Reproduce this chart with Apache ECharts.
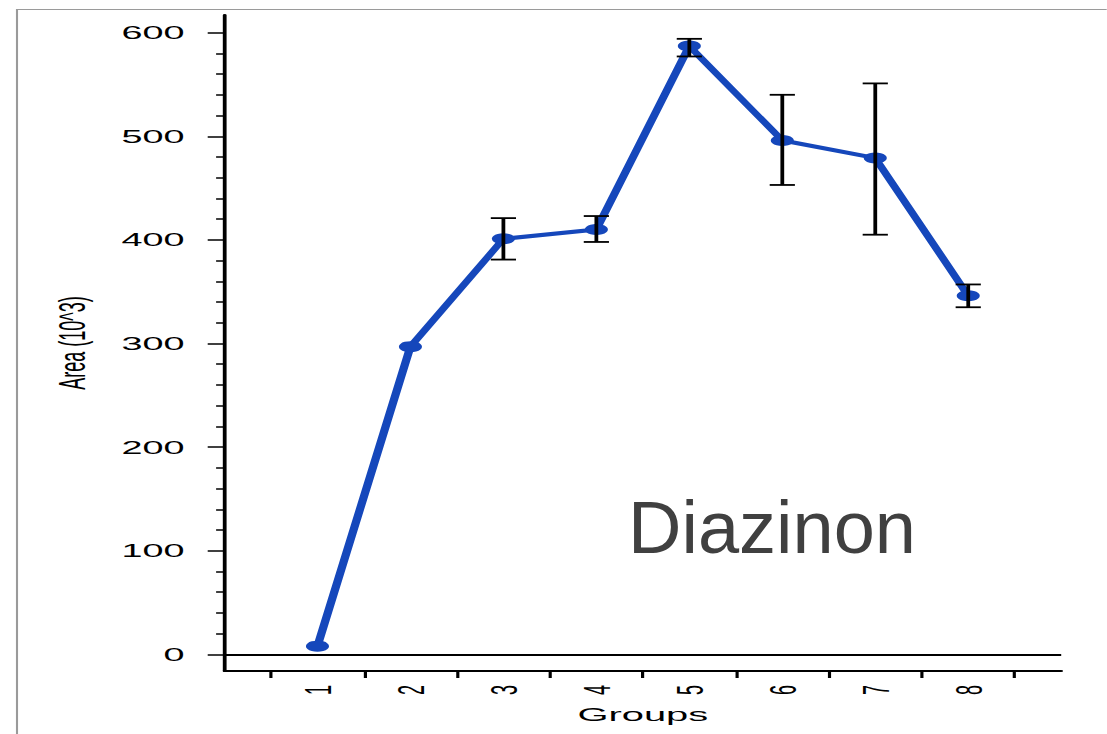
<!DOCTYPE html>
<html>
<head>
<meta charset="utf-8">
<title>Diazinon</title>
<script src="https://cdn.jsdelivr.net/npm/echarts@6/dist/echarts.min.js"></script>
<style>
  html, body { margin: 0; padding: 0; background: #fff; overflow: hidden; }
  /* The plot is laid out in a narrow frame and stretched horizontally. */
  #chart {
    position: absolute; left: 0; top: 0;
    height: 734px;
    transform-origin: 0 0;
  }
</style>
</head>
<body>
<div id="chart"></div>
<script>
// ---- data ----
const groups = [1, 2, 3, 4, 5, 6, 7, 8];
const groupLabels = ['1', '2', '3', '4', '5', '6', '7', '8'];
const areaMean = [8, 297, 401, 410, 587, 496, 479, 346];
const areaLow  = [null, null, 381, 398, 577, 453, 405, 335];
const areaHigh = [null, null, 421, 423, 594, 540, 551, 357];
const yTicks = [0, 100, 200, 300, 400, 500, 600];
const yMinorStep = 20;

// ---- layout helpers ----
const STRETCH = 2.1;
const PAGE_W = 1107;
const frameW = PAGE_W / STRETCH;
const el = document.getElementById('chart');
el.style.width = frameW + 'px';
el.style.transform = 'scaleX(' + STRETCH + ')';

const BLUE = '#1547BB';
const FONT = '"Liberation Sans", Arial, Helvetica, sans-serif';

const linePoints = groups.map((g, i) => [g, areaMean[i]]);
const errPoints = groups
  .map((g, i) => [g, areaLow[i], areaHigh[i]])
  .filter(d => d[1] != null && d[2] != null);

// tick marks between the groups
const xTickPos = groups.map(g => g - 0.5).concat([groups[groups.length - 1] + 0.5]);
// minor ticks between the labelled y ticks
const yMinor = [];
for (let k = 0; k < yTicks.length - 1; k++) {
  for (let v = yTicks[k] + yMinorStep; v < yTicks[k + 1]; v += yMinorStep) yMinor.push(v);
}

const chart = echarts.init(el, null, { renderer: 'svg' });

chart.setOption({
  animation: false,
  backgroundColor: '#fff',
  grid: { left: 224.5 / STRETCH, right: (PAGE_W - 1061.5) / STRETCH, top: 15, bottom: 63 },
  xAxis: {
    type: 'value',
    min: 0, max: 9,
    name: 'Groups',
    nameLocation: 'middle',
    nameGap: 34,
    nameTextStyle: { fontFamily: FONT, fontSize: 19, color: '#000' },
    axisLine: { show: true, onZero: false, lineStyle: { color: '#000', width: 1.8 } },
    axisTick: { show: true, length: 7, customValues: xTickPos, lineStyle: { color: '#000', width: 1.5 } },
    axisLabel: {
      customValues: groups,
      rotate: 90,
      margin: 14,
      fontFamily: FONT, fontSize: 18, color: '#000',
      formatter: v => groupLabels[groups.indexOf(v)] || ''
    },
    splitLine: { show: false }
  },
  yAxis: [
    {
      type: 'value',
      min: -16, max: 617,
      name: 'Area (10^3)',
      nameLocation: 'middle',
      nameGap: 64,
      nameRotate: 90,
      nameTextStyle: { fontFamily: FONT, fontSize: 18, color: '#000' },
      axisLine: { show: true, onZero: false, lineStyle: { color: '#000', width: 1.8 } },
      axisTick: { show: true, length: 8, customValues: yTicks, lineStyle: { color: '#000', width: 1.5 } },
      axisLabel: { customValues: yTicks, margin: 19, fontFamily: FONT, fontSize: 18, color: '#000' },
      splitLine: { show: false }
    },
    {
      type: 'value',
      min: -16, max: 617,
      position: 'left',
      axisLine: { show: false },
      axisTick: { show: true, length: 4, customValues: yMinor, lineStyle: { color: '#000', width: 1.5 } },
      axisLabel: { show: false },
      splitLine: { show: false }
    }
  ],
  graphic: [
    {
      type: 'rect',
      shape: { x: 17 / STRETCH, y: 9.5, width: 3000, height: 3000 },
      style: { fill: 'none', stroke: '#9a9a9a', lineWidth: 1 },
      silent: true, z: -10
    },
    {
      type: 'text',
      x: 772 / STRETCH, y: 527,
      scaleX: 1 / STRETCH,
      style: {
        text: 'Diazinon',
        fontFamily: FONT, fontSize: 74, fill: '#404040',
        align: 'center', verticalAlign: 'middle'
      },
      silent: true
    }
  ],
  series: [
    {
      type: 'line',
      data: linePoints,
      symbol: 'circle',
      symbolSize: 11,
      lineStyle: { color: BLUE, width: 4 },
      itemStyle: { color: BLUE },
      z: 2,
      markLine: {
        silent: true,
        symbol: 'none',
        label: { show: false },
        lineStyle: { color: '#000', width: 1.8, type: 'solid' },
        data: [[{ coord: [0, 0] }, { coord: [9, 0] }]]
      }
    },
    {
      type: 'custom',
      data: errPoints,
      z: 5,
      renderItem: function (params, api) {
        const x = api.value(0);
        const lo = api.coord([x, api.value(1)]);
        const hi = api.coord([x, api.value(2)]);
        const cap = 6;
        const st = { stroke: '#000', lineWidth: 1.8 };
        return {
          type: 'group',
          children: [
            { type: 'line', shape: { x1: lo[0], y1: lo[1], x2: hi[0], y2: hi[1] }, style: st },
            { type: 'line', shape: { x1: hi[0] - cap, y1: hi[1], x2: hi[0] + cap, y2: hi[1] }, style: st },
            { type: 'line', shape: { x1: lo[0] - cap, y1: lo[1], x2: lo[0] + cap, y2: lo[1] }, style: st }
          ]
        };
      }
    }
  ]
});
</script>
</body>
</html>
